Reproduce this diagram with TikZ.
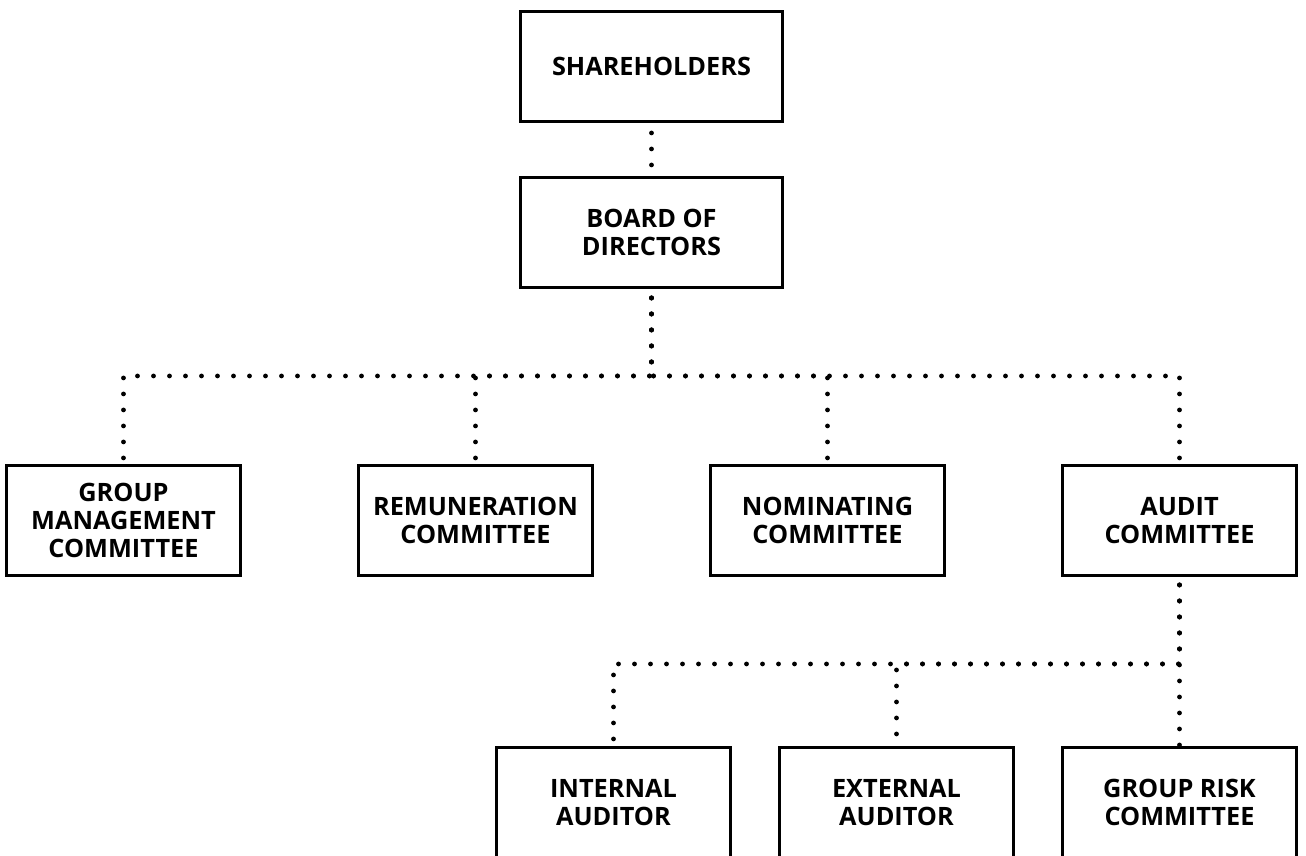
\documentclass[tikz,border=0pt]{standalone}
\usepackage{fontspec}
\setmainfont{Open Sans}

\begin{document}
\begin{tikzpicture}[
  every node/.style={draw, solid, line width=1.8pt, minimum width=5.84cm, minimum height=2.76cm,
    align=center, font=\bfseries\fontsize{18}{19.6}\selectfont},
  dotline/.style={line width=3.4pt, line cap=round, dash pattern=on 0pt off 0.4cm},
  edge from parent/.style={draw, dotline},
  level 1/.style={level distance=4.15cm,
    edge from parent path={([yshift=-0.25cm]\tikzparentnode.south) -- ([yshift=0.25cm]\tikzchildnode.north)}},
  level 2/.style={level distance=7.2cm, sibling distance=8.8cm,
    edge from parent path={([yshift=-0.225cm]\tikzparentnode.south) -- ++(0,-1.95cm) -| (\tikzchildnode.north)}},
  level 3/.style={level distance=7.05cm, sibling distance=7.075cm,
    edge from parent path={([yshift=-0.2cm]\tikzparentnode.south) -- ++(0,-1.975cm) -| (\tikzchildnode.north)}}]
\useasboundingbox (-16.2875,1.6625) rectangle (16.3625,-19.7375);
\node (share) [minimum width=6.56cm] {SHAREHOLDERS}
  child { node (board) [minimum width=6.56cm] {BOARD OF\\DIRECTORS}
    child { node (gmc) {GROUP\\MANAGEMENT\\COMMITTEE} }
    child { node (remun) {REMUNERATION\\COMMITTEE} }
    child { node (nomin) {NOMINATING\\COMMITTEE} }
    child { node (audit) {AUDIT\\COMMITTEE}
      child { node (intaud) {INTERNAL\\AUDITOR} }
      child { node (extaud) {EXTERNAL\\AUDITOR} }
      child { node (risk) {GROUP RISK\\COMMITTEE} }
      child[missing] {}
      child[missing] {} } }
  ;
\end{tikzpicture}
\end{document}
